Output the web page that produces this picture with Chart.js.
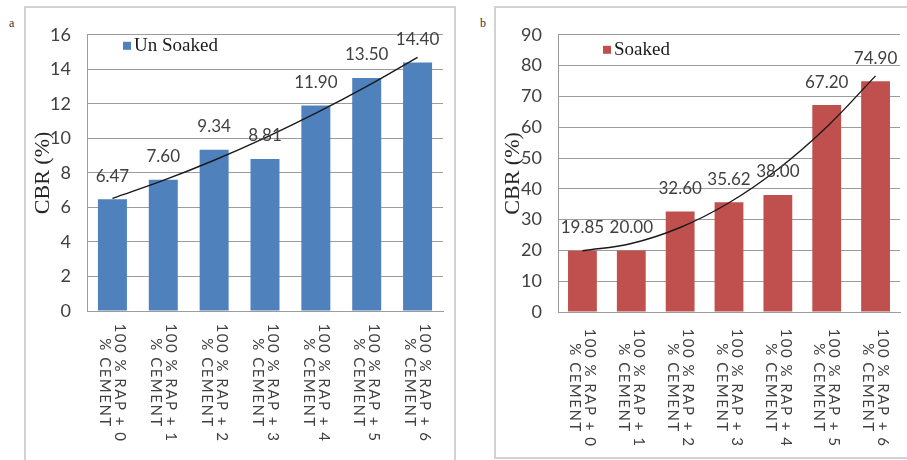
<!DOCTYPE html>
<html>
<head>
<meta charset="utf-8">
<script src="https://cdn.jsdelivr.net/npm/chart.js@4.4.1/dist/chart.umd.min.js"></script>
<style>
  body { margin: 0; background: #fff; }
  #wrap { position: relative; width: 907px; height: 460px; overflow: hidden; background: #fff; }
  .panel { position: absolute; border: 2px solid #d2d2d2; box-sizing: border-box; }
  canvas { position: absolute; }
  .tag { position: absolute; font-family: "Liberation Serif", serif; font-size: 12px; color: #333; }
</style>
</head>
<body>
<div id="wrap">
  <div class="panel" style="left:24px; top:6px; width:432px; height:470px;"></div>
  <div class="panel" style="left:494px; top:6px; width:420px; height:453px;"></div>
  <span class="tag" style="left:9px; top:16px;">a</span>
  <span class="tag" style="left:480px; top:16px;">b</span>
  <canvas id="graficoSeco" width="428" height="452" style="left:26px; top:8px;"></canvas>
  <canvas id="graficoSaturado" width="409" height="449" style="left:496px; top:8px;"></canvas>
</div>
<script>
// ===============================
//   DADOS
// ===============================
const misturas = [
  ["100 % RAP + 0", "% CEMENT"],
  ["100 % RAP + 1", "% CEMENT"],
  ["100 % RAP + 2", "% CEMENT"],
  ["100 % RAP + 3", "% CEMENT"],
  ["100 % RAP + 4", "% CEMENT"],
  ["100 % RAP + 5", "% CEMENT"],
  ["100 % RAP + 6", "% CEMENT"]
];
const cbrSeco     = [6.47, 7.60, 9.34, 8.81, 11.90, 13.50, 14.40];
const cbrSaturado = [19.85, 20.00, 32.60, 35.62, 38.00, 67.20, 74.90];
const ticksSeco     = [0, 2, 4, 6, 8, 10, 12, 14, 16];
const ticksSaturado = [0, 10, 20, 30, 40, 50, 60, 70, 80, 90];

// tendência polinomial de 2ª ordem (mínimos quadrados)
function tendencia2(ys) {
  const n = ys.length;
  const xm = (n - 1) / 2;
  const c = ys.reduce((s, _, i) => s + (i - xm) ** 2, 0) / n;
  const ym = ys.reduce((s, y) => s + y, 0) / n;
  let s1 = 0, q1 = 0, s2 = 0, q2 = 0;
  ys.forEach((y, i) => {
    const p1 = i - xm, p2 = (i - xm) ** 2 - c;
    s1 += p1 * y; q1 += p1 * p1;
    s2 += p2 * y; q2 += p2 * p2;
  });
  return ys.map((_, i) => ym + (s1 / q1) * (i - xm) + (s2 / q2) * ((i - xm) ** 2 - c));
}

const CINZA = "#9c9c9c";
const TEXTO = "#404040";
const FONTE_NUM = "Lato, 'Open Sans', sans-serif";

// valores sobre as barras + legenda dentro da área + rótulos do eixo x girados
const extras = {
  id: "extras",
  afterDraw(chart) {
    const ctx = chart.ctx;
    const area = chart.chartArea;
    const cfg = chart.options.plugins.extras;
    const barMeta = chart.getDatasetMeta(1);
    const barra = chart.data.datasets[1];

    ctx.save();
    // valores
    ctx.font = "17px " + FONTE_NUM;
    ctx.fillStyle = TEXTO;
    ctx.textAlign = "center";
    ctx.textBaseline = "middle";
    barMeta.data.forEach((bar, i) => {
      ctx.fillText(barra.data[i].toFixed(2), bar.x, bar.y - 23);
    });

    // legenda
    const lx = area.left + cfg.legendaX, ly = area.top + cfg.legendaY;
    ctx.fillStyle = barra.backgroundColor;
    ctx.fillRect(lx, ly - 4, 8, 8);
    ctx.fillStyle = "#1a1a1a";
    ctx.textAlign = "left";
    ctx.font = "19px 'Liberation Serif', serif";
    ctx.fillText(barra.label, lx + 11, ly);

    // rótulos das categorias (texto de cima para baixo)
    const xs = chart.scales.x;
    ctx.font = "15px " + FONTE_NUM;
    ctx.letterSpacing = "1.5px";
    ctx.fillStyle = TEXTO;
    ctx.textAlign = "center";
    chart.data.labels.forEach((lab, i) => {
      const x = xs.getPixelForValue(i);
      ctx.save();
      ctx.translate(x, area.bottom + cfg.rotuloY);
      ctx.rotate(Math.PI / 2);
      ctx.fillText(lab[0], 0, -7.5);
      ctx.fillText(lab[1], 0, 7.5);
      ctx.restore();
    });
    ctx.restore();
  }
};

function gerarGrafico(id, valores, ticks, nome, cor, caixa) {
  return new Chart(document.getElementById(id), {
    data: {
      labels: misturas,
      datasets: [
        {
          type: "line",
          label: "Poly.",
          data: tendencia2(valores),
          borderColor: "#1a1a1a",
          borderWidth: 1.4,
          pointRadius: 0,
          tension: 0.4,
          order: 0
        },
        {
          type: "bar",
          label: nome,
          data: valores,
          backgroundColor: cor,
          categoryPercentage: 1,
          barPercentage: caixa.barra,
          order: 1
        }
      ]
    },
    options: {
      responsive: false,
      animation: false,
      layout: { padding: { top: caixa.topo, right: caixa.direita, left: 0, bottom: 0 } },
      plugins: {
        legend: { display: false },
        tooltip: { enabled: false },
        extras: { legendaX: caixa.legendaX, legendaY: caixa.legendaY, rotuloY: caixa.rotuloY }
      },
      scales: {
        x: {
          grid: { display: false },
          border: { display: true, color: CINZA, width: 1 },
          ticks: { display: false },
          afterFit(s) { s.height = caixa.alturaX; }
        },
        y: {
          min: ticks[0],
          max: ticks[ticks.length - 1],
          afterBuildTicks(s) { s.ticks = ticks.map(v => ({ value: v })); },
          afterFit(s) { s.width = caixa.larguraY; },
          grid: { color: CINZA, lineWidth: 1, drawTicks: false },
          border: { display: true, color: CINZA, width: 1 },
          ticks: {
            padding: 16,
            color: TEXTO,
            font: { family: FONTE_NUM, size: 18 }
          },
          title: {
            display: true,
            text: "CBR (%)",
            color: "#262626",
            padding: { top: 4, bottom: 0 },
            font: { family: "'Liberation Serif', serif", size: 22 }
          }
        }
      }
    },
    plugins: [extras]
  });
}

gerarGrafico("graficoSeco", cbrSeco, ticksSeco, "Un Soaked", "#4f81bd", {
  topo: 21, direita: 11, larguraY: 61, alturaX: 149, barra: 0.57,
  legendaX: 36, legendaY: 11, rotuloY: 72
});

gerarGrafico("graficoSaturado", cbrSaturado, ticksSaturado, "Soaked", "#c0504d", {
  topo: 20, direita: 5, larguraY: 62, alturaX: 145, barra: 0.59,
  legendaX: 45, legendaY: 15, rotuloY: 76
});
</script>
</body>
</html>
